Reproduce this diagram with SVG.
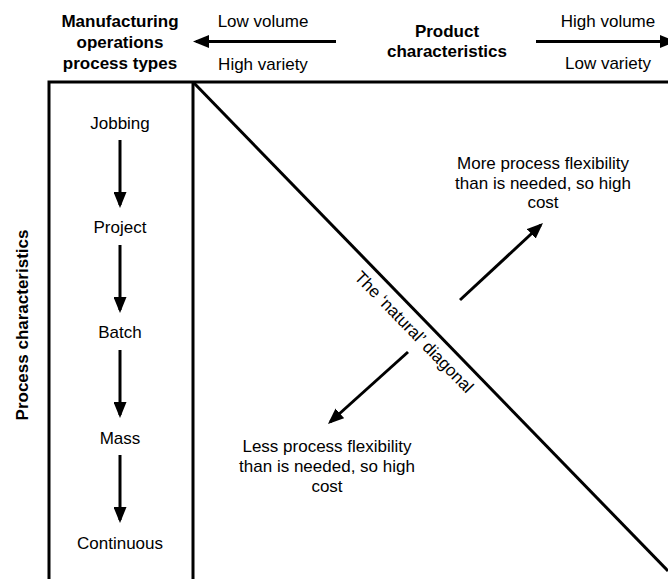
<svg xmlns="http://www.w3.org/2000/svg" width="668" height="579" viewBox="0 0 668 579">
  <defs>
    <style>
      text { font-family: "Liberation Sans", Arial, sans-serif; font-size: 17px; fill: #000; text-anchor: middle; }
      .b { font-weight: bold; }
      .frame { fill: none; stroke: #000; stroke-width: 3; }
      .arr { fill: none; stroke: #000; stroke-width: 3; marker-end: url(#head); }
    </style>
    <marker id="head" markerUnits="userSpaceOnUse" markerWidth="16" markerHeight="13" refX="13" refY="6.5" orient="auto">
      <path d="M0,0 L16,6.5 L0,13 z" fill="#000"/>
    </marker>
  </defs>
  <rect width="668" height="579" fill="#fff"/>

  <!-- grid frame and the diagonal -->
  <g id="frame">
    <path class="frame" d="M49,579 V82 H668"/>
    <path class="frame" d="M193,82 V579"/>
    <path class="frame" d="M193,82 L668,571"/>
  </g>

  <!-- headings -->
  <g id="process-types-heading">
    <text class="b" x="120" y="27">Manufacturing</text>
    <text class="b" x="120" y="48">operations</text>
    <text class="b" x="120" y="69">process types</text>
  </g>
  <g id="product-heading">
    <text class="b" x="447" y="37">Product</text>
    <text class="b" x="447" y="57">characteristics</text>
  </g>
  <g id="low-volume">
    <text x="263" y="27">Low volume</text>
    <text x="263" y="70">High variety</text>
  </g>
  <g id="high-volume">
    <text x="608" y="27">High volume</text>
    <text x="608" y="69">Low variety</text>
  </g>
  <g id="process-heading">
    <text class="b" transform="translate(28,325) rotate(-90)">Process characteristics</text>
  </g>

  <!-- process types -->
  <g id="jobbing"><text x="120" y="129">Jobbing</text></g>
  <g id="project"><text x="120" y="233">Project</text></g>
  <g id="batch"><text x="120" y="338">Batch</text></g>
  <g id="mass"><text x="120" y="444">Mass</text></g>
  <g id="continuous"><text x="120" y="549">Continuous</text></g>

  <!-- notes either side of the diagonal -->
  <g id="diagonal-label">
    <text transform="translate(410,336) rotate(45.8)">The ‘natural’ diagonal</text>
  </g>
  <g id="more-flexibility">
    <text x="543" y="169">More process flexibility</text>
    <text x="543" y="189">than is needed, so high</text>
    <text x="543" y="208">cost</text>
  </g>
  <g id="less-flexibility">
    <text x="327" y="452">Less process flexibility</text>
    <text x="327" y="472">than is needed, so high</text>
    <text x="327" y="492">cost</text>
  </g>

  <!-- connectors -->
  <g id="connectors">
    <line class="arr" x1="336" y1="41.5" x2="196" y2="41.5"/>
    <line class="arr" x1="536" y1="41.5" x2="673" y2="41.5"/>
    <line class="arr" x1="120" y1="140" x2="120" y2="205"/>
    <line class="arr" x1="120" y1="245" x2="120" y2="310"/>
    <line class="arr" x1="120" y1="350" x2="120" y2="415"/>
    <line class="arr" x1="120" y1="455" x2="120" y2="520"/>
    <line class="arr" x1="460" y1="300" x2="540.8" y2="225"/>
    <line class="arr" x1="408" y1="352" x2="330.2" y2="422"/>
  </g>
</svg>
